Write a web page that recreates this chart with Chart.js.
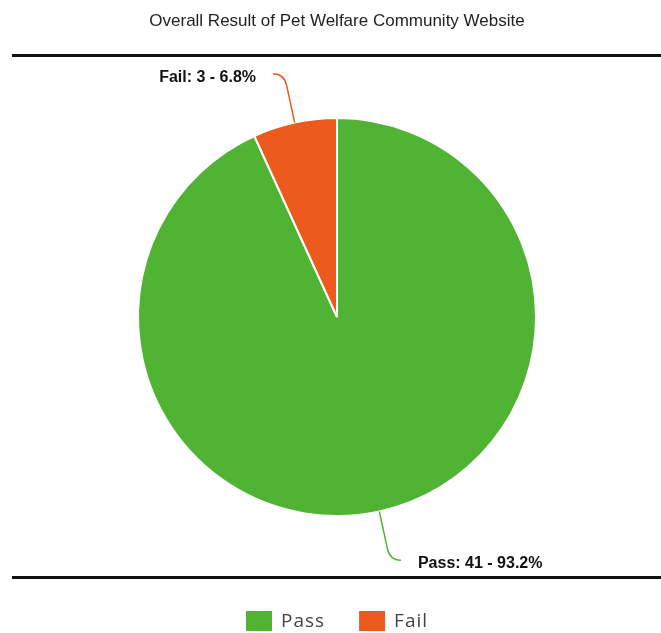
<!DOCTYPE html>
<html>
<head>
<meta charset="utf-8">
<script src="https://cdn.jsdelivr.net/npm/chart.js@4.4.0/dist/chart.umd.min.js"></script>
<style>
html,body{margin:0;padding:0;background:#fff;}
#wrap{width:661px;height:633px;position:relative;}
</style>
</head>
<body>
<div id="wrap"><canvas id="c" width="661" height="633"></canvas></div>
<script>
const titleText = "Overall Result of Pet Welfare Community Website";
const categories = ["Pass", "Fail"];
const counts = [41, 3];
const percents = ["93.2%", "6.8%"];
const colors = ["#51b334", "#ec5a1e"];

const overlay = {
  id: 'overlay',
  afterDraw(chart) {
    const ctx = chart.ctx;
    const meta = chart.getDatasetMeta(0);
    ctx.save();
    // title
    ctx.fillStyle = '#222';
    ctx.font = '17px "Liberation Sans", Arial, sans-serif';
    ctx.textAlign = 'center';
    ctx.textBaseline = 'alphabetic';
    ctx.fillText(titleText, 337, 26);
    // frame lines
    ctx.fillStyle = '#111';
    ctx.fillRect(12, 54, 649, 3);
    ctx.fillRect(12, 576, 649, 3);
    // slice labels with leader lines
    meta.data.forEach((arc, i) => {
      const p = arc.getProps(['x','y','startAngle','endAngle','outerRadius'], true);
      const mid = (p.startAngle + p.endAngle) / 2;
      const cos = Math.cos(mid), sin = Math.sin(mid);
      const r = p.outerRadius;
      const x0 = p.x + cos * r, y0 = p.y + sin * r;
      const x1 = p.x + cos * (r + 38), y1 = p.y + sin * (r + 38);
      const xc = p.x + cos * (r + 50), yc = p.y + sin * (r + 50);
      const dir = cos >= 0 ? 1 : -1;
      const x2 = xc + dir * 11, y2 = yc;
      ctx.strokeStyle = colors[i];
      ctx.lineWidth = 1.5;
      ctx.beginPath();
      ctx.moveTo(x0, y0);
      ctx.lineTo(x1, y1);
      ctx.quadraticCurveTo(xc, yc, x2, y2);
      ctx.stroke();
      ctx.fillStyle = '#111';
      ctx.font = 'bold 16px "Liberation Sans", Arial, sans-serif';
      ctx.textBaseline = 'alphabetic';
      ctx.textAlign = dir > 0 ? 'left' : 'right';
      const txt = categories[i] + ': ' + counts[i] + ' - ' + percents[i];
      ctx.fillText(txt, x2 + dir * 17, y2 + 8);
    });
    // legend
    ctx.font = '19px "Open Sans", sans-serif';
    ctx.letterSpacing = '1px';
    ctx.textAlign = 'left';
    ctx.textBaseline = 'alphabetic';
    let x = 246;
    categories.forEach((c, i) => {
      ctx.fillStyle = colors[i];
      ctx.fillRect(x, 611, 26, 20);
      ctx.fillStyle = '#444';
      ctx.fillText(c, x + 35, 627);
      x += 35 + ctx.measureText(c).width + 34;
    });
    ctx.restore();
  }
};

new Chart(document.getElementById('c'), {
  type: 'pie',
  data: {
    labels: categories,
    datasets: [{
      data: counts,
      backgroundColor: colors,
      borderColor: '#ffffff',
      borderWidth: 2,
      radius: 199
    }]
  },
  options: {
    responsive: false,
    animation: false,
    layout: { padding: { top: 40, bottom: 39, left: 13, right: 0 } },
    plugins: {
      legend: { display: false },
      title: { display: false },
      tooltip: { enabled: false }
    }
  },
  plugins: [overlay]
});
</script>
</body>
</html>
